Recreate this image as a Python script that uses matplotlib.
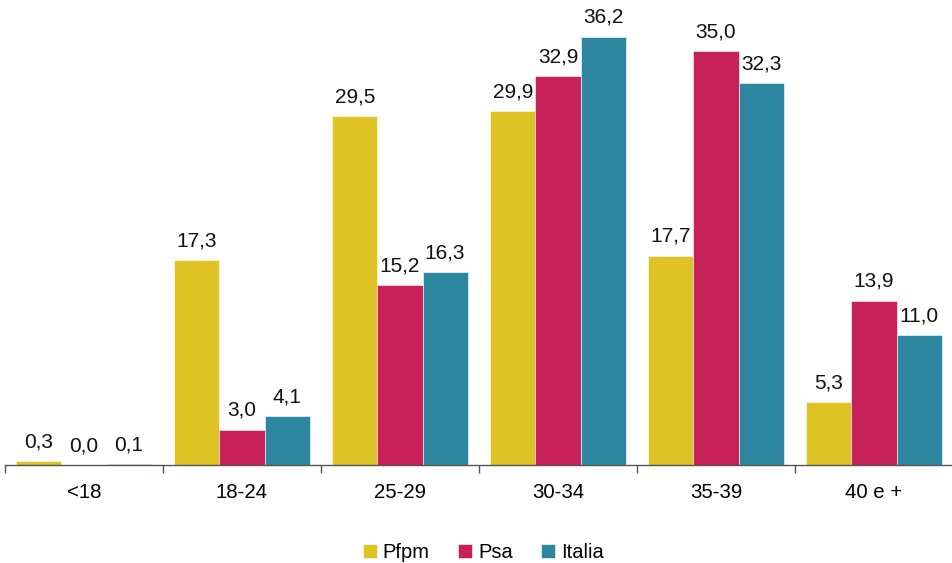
import numpy as np
import matplotlib.pyplot as plt

plt.rcParams['font.family'] = ['Liberation Sans', 'DejaVu Sans']

classi = ['<18', '18-24', '25-29', '30-34', '35-39', '40 e +']
pfpm = [0.3, 17.3, 29.5, 29.9, 17.7, 5.3]
psa = [0.0, 3.0, 15.2, 32.9, 35.0, 13.9]
italia = [0.1, 4.1, 16.3, 36.2, 32.3, 11.0]

serie = ['Pfpm', 'Psa', 'Italia']
colori = ['#DFC223', '#C82058', '#2D86A0']

fig = plt.figure(figsize=(9.53, 5.63), dpi=100)
ax = fig.add_axes([5 / 953, 98 / 563, 948 / 953, 465 / 563])

x = np.arange(len(classi))
w = 0.285
for i, (nome, valori, col) in enumerate(zip(serie, [pfpm, psa, italia], colori)):
    pos = x + (i - 1) * w
    bars = ax.bar(pos, valori, width=w, color=col, label=nome,
                  edgecolor='white', linewidth=0.4)
    for xb, v in zip(pos, valori):
        ax.annotate(f'{v:.1f}'.replace('.', ','), (xb, v), xytext=(0, 7),
                    textcoords='offset points', ha='center', va='bottom',
                    fontsize=15, color='#111111')

ax.set_xlim(-0.5, len(classi) - 0.5)
ax.set_ylim(0, 39.3)
ax.set_yticks([])
for s in ['top', 'right', 'left']:
    ax.spines[s].set_visible(False)
ax.spines['bottom'].set_color('#555555')
ax.spines['bottom'].set_linewidth(1.0)

# tick di separazione tra i gruppi, etichette al centro
ax.set_xticks(np.arange(-0.5, len(classi), 1.0))
ax.set_xticklabels([])
ax.tick_params(axis='x', direction='out', length=6, color='#555555', width=1.0)
ax.set_xticks(x, minor=True)
ax.set_xticklabels(classi, minor=True, fontsize=14.7)
ax.tick_params(axis='x', which='minor', length=0, pad=13)

fig.legend(loc='lower center', bbox_to_anchor=(0.507, -0.03), ncol=3, frameon=False,
           fontsize=14.5, handlelength=0.7, handleheight=0.7, handletextpad=0.3,
           columnspacing=1.4)

fig.savefig('out.png', dpi=100)
